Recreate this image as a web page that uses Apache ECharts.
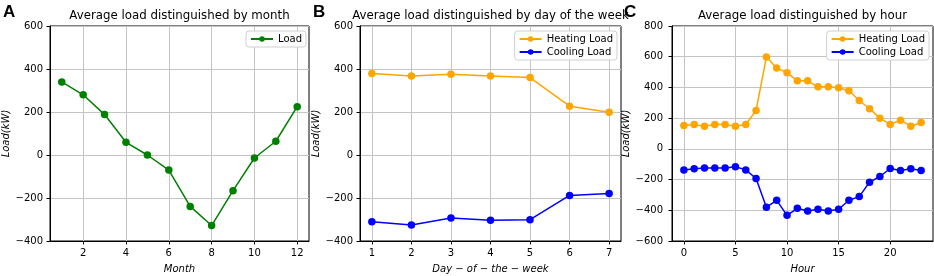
<!DOCTYPE html>
<html>
<head>
<meta charset="utf-8">
<script src="https://cdn.jsdelivr.net/npm/echarts@6/dist/echarts.min.js"></script>
<style>
html,body{margin:0;padding:0;background:#fff;}
#chart{width:934px;height:276px;}
</style>
</head>
<body>
<div id="chart"></div>
<script>
// ---- data ----
const months = [1,2,3,4,5,6,7,8,9,10,11,12];
const monthLoad = [340,280,188,59,0,-70,-239,-328,-166,-14,64,225];

const days = [1,2,3,4,5,6,7];
const dayHeating = [379,368,376,368,360,227,199];
const dayCooling = [-311,-326,-293,-303,-301,-188,-179];

const hours = [0,1,2,3,4,5,6,7,8,9,10,11,12,13,14,15,16,17,18,19,20,21,22,23];
const hourHeating = [152,159,148,159,159,148,159,250,598,526,496,443,443,404,404,398,378,315,261,200,159,187,148,172];
const hourCooling = [-137,-130,-124,-124,-124,-117,-137,-193,-380,-335,-433,-387,-404,-393,-404,-393,-335,-311,-217,-180,-128,-141,-130,-141];

const monthTicks = [2,4,6,8,10,12];
const dayTicks = [1,2,3,4,5,6,7];
const hourTicks = [0,5,10,15,20];

const titles = ['Average load distinguished by month','Average load distinguished by day of the week','Average load distinguished by hour'];
const panelLetters = ['A','B','C'];
const xNames = ['Month','Day \u2212 of \u2212 the \u2212 week','Hour'];
const yName = 'Load(kW)';

// ---- chart ----
const FONT = 'DejaVu Sans';
const GREEN = '#008000', ORANGE = '#FFA500', BLUE = '#0000FF';
const grids = [
  {left:50, top:26, width:259, height:215},
  {left:360, top:26, width:261, height:215},
  {left:672, top:26, width:261, height:215}
];
const xRanges = [[0.45,12.55],[0.7,7.3],[-1.15,24.15]];
const xTickSets = [monthTicks, dayTicks, hourTicks];
const yRanges = [[-400,600],[-400,600],[-600,800]];
const yLabelMargins = [7, 7, 9];
const yNameGaps = [37, 37, 39];

const fmtY = v => v < 0 ? '\u2212' + Math.abs(v) : String(v);

const xAxes = grids.map((g,i)=>({
  type:'value', gridIndex:i, min:xRanges[i][0], max:xRanges[i][1],
  name:xNames[i], nameLocation:'middle', nameGap:23,
  nameTextStyle:{fontFamily:FONT, fontSize:10, fontStyle:'italic', color:'#000'},
  axisLine:{show:true, onZero:false, lineStyle:{color:'#000', width:1}},
  axisTick:{show:true, length:3.5, customValues:xTickSets[i], lineStyle:{color:'#000'}},
  axisLabel:{customValues:xTickSets[i], fontFamily:FONT, fontSize:10, color:'#000', margin:7},
  splitLine:{show:true, lineStyle:{color:'#c4c4c4', width:1}}
}));
const yAxes = grids.map((g,i)=>({
  type:'value', gridIndex:i, min:yRanges[i][0], max:yRanges[i][1], interval:200,
  name:yName, nameLocation:'middle', nameGap:yNameGaps[i], nameRotate:90,
  nameTextStyle:{fontFamily:FONT, fontSize:10, fontStyle:'italic', color:'#000'},
  axisLine:{show:true, onZero:false, lineStyle:{color:'#000', width:1}},
  axisTick:{show:true, length:3.5, lineStyle:{color:'#000'}},
  axisLabel:{fontFamily:FONT, fontSize:10, color:'#000', margin:yLabelMargins[i], formatter:fmtY},
  splitLine:{show:true, lineStyle:{color:'#c4c4c4', width:1}}
}));

function mk(name, xs, ys, color, idx){
  return {
    name, type:'line', xAxisIndex:idx, yAxisIndex:idx,
    data: xs.map((x,k)=>[x, ys[k]]),
    symbol:'circle', symbolSize:7.5, showSymbol:true,
    lineStyle:{color, width:1.5}, itemStyle:{color},
    animation:false
  };
}
const series = [
  mk('Load', months, monthLoad, GREEN, 0),
  mk('Heating Load', days, dayHeating, ORANGE, 1),
  mk('Cooling Load', days, dayCooling, BLUE, 1),
  mk('Heating Load ', hours, hourHeating, ORANGE, 2),
  mk('Cooling Load ', hours, hourCooling, BLUE, 2)
];

const legendBase = {
  orient:'vertical', itemWidth:22, itemHeight:7, itemGap:3,
  textStyle:{fontFamily:FONT, fontSize:10, color:'#000'},
  borderColor:'#d0d0d0', borderWidth:1, borderRadius:3, padding:[3,4,3,4],
  backgroundColor:'#fff'
};
const legends = [
  Object.assign({}, legendBase, {data:['Load'], right:934-306, top:31}),
  Object.assign({}, legendBase, {data:['Heating Load','Cooling Load'], right:934-617, top:31}),
  Object.assign({}, legendBase, {data:['Heating Load ','Cooling Load '], right:934-929, top:31,
    formatter: n => n.trim()})
];

const letterX = [3, 313, 624];

const chart = echarts.init(document.getElementById('chart'), null, {renderer:'canvas'});
chart.setOption({
  animation:false,
  grid: grids.map(g=>Object.assign({show:true, borderColor:'#000', borderWidth:1, backgroundColor:'transparent',
    containLabel:false, outerBoundsMode:'none'}, g)),
  xAxis:xAxes, yAxis:yAxes, series, legend:legends
});
// titles and panel letters
const opts = [];
grids.forEach((g,i)=>{
  opts.push({type:'text', x:g.left + g.width/2, y:16, style:{text:titles[i], font:'11.8px "DejaVu Sans"', fill:'#000', align:'center', verticalAlign:'middle'}});
});
panelLetters.forEach((l,i)=>{
  opts.push({type:'text', x:letterX[i], y:12, style:{text:l, font:'bold 17px "Liberation Sans"', fill:'#000', align:'left', verticalAlign:'middle'}});
});
chart.setOption({graphic:{elements:opts}});
</script>
</body>
</html>
